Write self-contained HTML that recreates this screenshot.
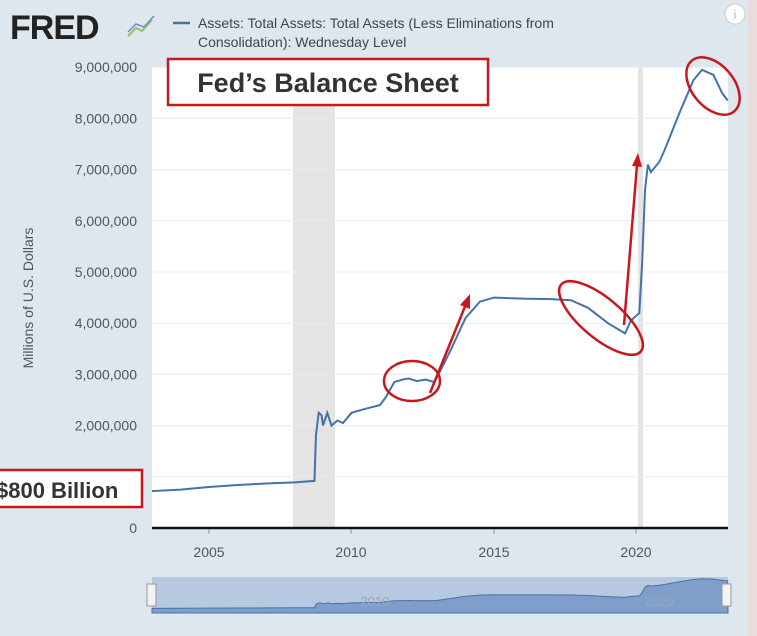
<!DOCTYPE html>
<html><head><meta charset="utf-8"><style>
body{margin:0;width:757px;height:636px;overflow:hidden;background:#dfe7ef;font-family:"Liberation Sans",sans-serif}
</style></head><body>
<svg id="s" width="757" height="636" xmlns="http://www.w3.org/2000/svg" style="position:absolute;left:0;top:0">
<rect x="0" y="0" width="757" height="636" fill="#dee6ee"/>
<rect x="748" y="0" width="9" height="636" fill="#e9dcdc"/>
<rect x="152" y="67" width="576" height="461" fill="#fff"/>
<rect x="293" y="67" width="42" height="461" fill="#e4e4e4"/>
<rect x="638" y="67" width="5" height="461" fill="#e4e4e4"/>
<g id="grid" stroke="#ececec" stroke-width="1"></g>
<line x1="152" y1="528" x2="728" y2="528" stroke="#111" stroke-width="2.5"/>
<g id="ylab" font-size="14" fill="#555" text-anchor="end"></g>
<g font-size="14" fill="#555" text-anchor="middle">
<text x="209" y="557">2005</text><text x="351" y="557">2010</text><text x="494" y="557">2015</text><text x="636" y="557">2020</text></g>
<text transform="translate(33,298) rotate(-90)" font-size="14" fill="#555" text-anchor="middle">Millions of U.S. Dollars</text>
<path id="line" fill="none" stroke="#4572a7" stroke-width="2"/>
<rect x="152" y="577" width="576" height="36" fill="#b7c8e1"/>
<path id="nav" fill="#7f9ec9" stroke="#4a72a8" stroke-width="1"/>
<text x="375" y="606" font-size="13" fill="#9aa7ba" text-anchor="middle">2010</text>
<text x="659" y="606" font-size="13" fill="#9aa7ba" text-anchor="middle">2020</text>
<rect x="147" y="584" width="9" height="22" fill="#f3f3f3" stroke="#999"/>
<rect x="722" y="584" width="9" height="22" fill="#f3f3f3" stroke="#999"/>
<text x="10" y="39" font-size="34" font-weight="bold" fill="#222" letter-spacing="-1">FRED</text>
<polyline points="128,36 136,28 142,31 152,20" fill="none" stroke="#8fbf6a" stroke-width="2"/>
<polyline points="128,32 136,24 144,27 154,16" fill="none" stroke="#6a8fbf" stroke-width="1.5"/>
<line x1="173" y1="23" x2="190" y2="23" stroke="#4572a7" stroke-width="2.5"/>
<text x="198" y="28" font-size="14" fill="#444">Assets: Total Assets: Total Assets (Less Eliminations from</text>
<text x="198" y="47" font-size="14" fill="#444">Consolidation): Wednesday Level</text>
<circle cx="735" cy="14" r="10" fill="#fff" stroke="#ccc"/><text x="735" y="19" font-size="13" fill="#bbb" text-anchor="middle">i</text>
<rect x="168" y="59" width="320" height="46" fill="#fff" stroke="#c8181e" stroke-width="2.5"/>
<text x="328" y="92" font-size="27" font-weight="bold" fill="#333" text-anchor="middle">Fed’s Balance Sheet</text>
<rect x="-10" y="470" width="152" height="37" fill="#fff" stroke="#c8181e" stroke-width="2.5"/>
<text x="-4" y="498" font-size="22" font-weight="bold" fill="#333">$800 Billion</text>
<g fill="none" stroke="#c8181e" stroke-width="2.5">
<ellipse cx="412" cy="381" rx="28" ry="20"/>
<ellipse cx="601" cy="318" rx="52" ry="20" transform="rotate(40 601 318)"/>
<ellipse cx="713" cy="86" rx="33" ry="21" transform="rotate(50 713 86)"/>
<line x1="430" y1="393" x2="466" y2="304"/>
<line x1="624" y1="325" x2="637" y2="165"/>
</g>
<polygon points="470,294 460,305 470,309" fill="#c8181e"/>
<polygon points="638,153 632,166 642,167" fill="#c8181e"/>
</svg>
<script>
var d=[[2003,.72],[2004,.75],[2005,.8],[2006,.84],[2007,.87],[2008,.89],[2008.7,.92],[2008.75,1.8],[2008.85,2.25],[2008.95,2.2],[2009,2.0],[2009.15,2.25],[2009.3,2.0],[2009.5,2.1],[2009.7,2.05],[2010,2.25],[2010.5,2.33],[2011,2.4],[2011.2,2.55],[2011.5,2.85],[2011.8,2.9],[2012,2.92],[2012.3,2.87],[2012.6,2.9],[2012.9,2.85],[2013.1,3.05],[2013.5,3.5],[2014,4.1],[2014.5,4.42],[2015,4.5],[2016,4.48],[2017,4.47],[2017.7,4.45],[2018.3,4.3],[2019,4.0],[2019.6,3.8],[2019.8,4.05],[2020.1,4.2],[2020.2,5.2],[2020.3,6.6],[2020.4,7.1],[2020.5,6.95],[2020.8,7.15],[2021,7.4],[2021.5,8.1],[2022,8.75],[2022.3,8.95],[2022.7,8.85],[2023,8.5],[2023.2,8.35]];
function X(y){return 209+(y-2005)*28.5}function Y(v){return 528-v*51.2}
var p='';for(var i=0;i<d.length;i++){p+=(i?'L':'M')+X(d[i][0]).toFixed(1)+','+Y(d[i][1]).toFixed(1)}
document.getElementById('line').setAttribute('d',p);
var n='M152,613';for(i=0;i<d.length;i++){n+='L'+X(d[i][0]).toFixed(1)+','+(611-d[i][1]*3.6).toFixed(1)}n+='L728,613Z';
document.getElementById('nav').setAttribute('d',n);
var g=document.getElementById('grid'),yl=document.getElementById('ylab'),s='',t='';
for(var k=1;k<=9;k++){var yy=Y(k);s+='<line x1="152" x2="728" y1="'+yy+'" y2="'+yy+'"/>';}
for(k=0;k<=9;k++){t+='<text x="137" y="'+(Y(k)+5)+'">'+(k?k+',000,000':'0')+'</text>';}
[209,351,494,636].forEach(function(x){s+='<line x1="'+x+'" x2="'+x+'" y1="528" y2="534" stroke="#999"/>'});
g.innerHTML=s;yl.innerHTML=t;
</script>
</body></html>
